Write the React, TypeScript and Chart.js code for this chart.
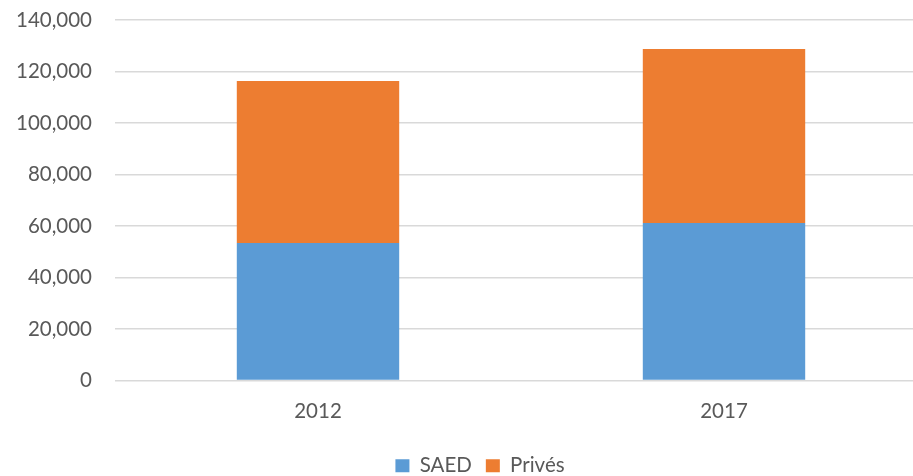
import React, { useEffect, useRef } from "react";
import { Chart, registerables } from "chart.js";

Chart.register(...registerables);

const categories = ["2012", "2017"];
const saedValues = [53400, 61200];
const privesValues = [62900, 67500];
const seriesNames = ["SAED", "Privés"];
const yMax = 140000;
const yStep = 20000;

const FONT = "Lato";
const FONT_SIZE = 20.5;
const TEXT = "#595959";

const legendShift = {
  id: "legendShift",
  afterLayout(chart: any) {
    const lg = chart.legend;
    if (lg) {
      lg.left += 16.5;
      lg.right += 16.5;
    }
  },
};

export default function App() {
  const ref = useRef<HTMLCanvasElement | null>(null);

  useEffect(() => {
    document.body.style.margin = "0";
    const canvas = ref.current;
    if (!canvas) return;
    const chart = new Chart(canvas, {
      type: "bar",
      data: {
        labels: categories,
        datasets: [
          {
            label: seriesNames[0],
            data: saedValues,
            backgroundColor: "#5B9BD5",
            borderWidth: 0,
          },
          {
            label: seriesNames[1],
            data: privesValues,
            backgroundColor: "#ED7D31",
            borderWidth: 0,
          },
        ],
      },
      plugins: [legendShift],
      options: {
        responsive: false,
        animation: false,
        layout: { padding: { left: 0, right: 0, top: 20, bottom: 0 } },
        datasets: {
          bar: { categoryPercentage: 1, barPercentage: 0.4 },
        },
        scales: {
          x: {
            stacked: true,
            afterFit: (scale: any) => {
              scale.height = 61;
            },
            grid: { display: false, drawTicks: false },
            border: { display: false },
            ticks: {
              padding: 19,
              color: TEXT,
              font: { family: FONT, size: FONT_SIZE },
            },
          },
          y: {
            stacked: true,
            min: 0,
            max: yMax,
            afterFit: (scale: any) => {
              scale.width = 115;
              scale.paddingTop = 0;
            },
            grid: { color: "#d9d9d9", lineWidth: 1.5, drawTicks: false },
            border: { display: false },
            ticks: {
              stepSize: yStep,
              padding: 23,
              color: TEXT,
              font: { family: FONT, size: FONT_SIZE },
              callback: (v: any) => Number(v).toLocaleString("en-US"),
            },
          },
        },
        plugins: {
          tooltip: { enabled: false },
          legend: {
            position: "bottom",
            labels: {
              boxWidth: 14,
              boxHeight: 13,
              padding: 14,
              color: TEXT,
              font: { family: FONT, size: FONT_SIZE },
            },
          },
        },
      },
    });
    return () => chart.destroy();
  }, []);

  return (
    <div style={{ position: "relative", width: 913, height: 476, overflow: "hidden", background: "#fff" }}>
      <canvas ref={ref} width={927} height={486} style={{ display: "block", width: 927, height: 486 }} />
    </div>
  );
}
